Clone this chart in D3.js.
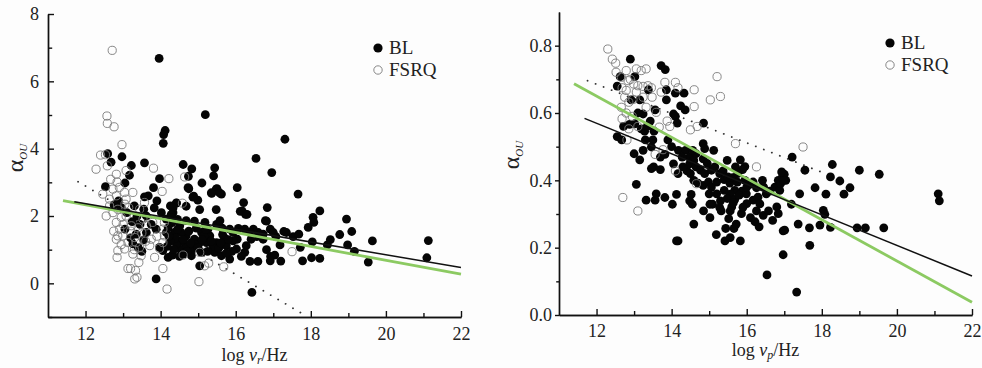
<!DOCTYPE html>
<html>
<head>
<meta charset="utf-8">
<script src="https://cdn.jsdelivr.net/npm/d3@7"></script>
<style>
  html, body { margin: 0; padding: 0; background: #fdfdfd; }
  svg { display: block; }
  .axis path, .axis line { stroke: #111; stroke-width: 1.4px; }
</style>
</head>
<body>
<div id="chart"></div>
<script>
// ---- data ----
const SERIF = "'Liberation Serif', 'Times New Roman', serif"

// left panel: log nu_r vs alpha_OU
const leftBL = [
  [13.96,6.68],[15.19,5.01],[14.12,4.54],[14.08,4.42],[14.07,4.16],[17.31,4.28],[16.54,3.71],[16.96,3.29],
  [17.66,2.65],[12.59,3.85],[12.97,3.76],[12.68,3.6],[13.22,3.5],[13.57,3.58],[14.6,3.53],[14.83,3.4],
  [15.44,3.43],[15.41,3.19],[13.97,3.11],[14.74,3.18],[15.1,2.98],[13.17,3.21],[13.05,2.98],[12.53,2.87],
  [16.04,2.84],[15.5,2.81],[15.36,2.67],[15.62,2.65],[14.75,2.81],[13.81,2.84],[13.67,2.6],[13.57,2.57],
  [14.86,2.56],[14.99,2.47],[13.9,2.45],[12.88,2.45],[16.21,2.4],[16.12,2.14],[16.26,2.05],[16.84,2.25],
  [18.24,2.15],[18.06,1.96],[18.08,1.81],[18.95,1.91],[19.09,1.54],[18.77,1.45],[18.52,1.3],[18.44,1.14],
  [18.98,1.14],[19.16,0.95],[19.64,1.26],[19.53,0.63],[21.13,1.27],[21.09,0.76],[17.93,1.66],[18.04,1.23],
  [18.02,0.76],[18.24,0.74],[17.78,0.67],[17.72,1.07],[17.28,1.54],[17.35,1.51],[17.53,1.39],[17.68,1.46],
  [17.18,1.14],[17.07,1.39],[16.92,1.61],[16.79,1.86],[16.82,1.0],[16.93,0.8],[17.04,0.84],[16.92,0.67],
  [17.2,0.66],[16.59,0.65],[16.38,0.65],[16.43,-0.27],[13.88,0.13],[16.6,1.51],[16.47,1.61],[16.56,1.39],
  [16.07,1.63],[15.84,1.61],[15.64,1.64],[15.49,1.75],[15.58,1.86],[15.18,1.81],[15.09,1.51],[14.95,1.64],
  [14.68,1.86],[14.51,1.71],[14.37,1.51],[14.33,2.1],[14.26,2.3],[14.42,2.38],[14.15,1.91],[14.02,2.1],
  [13.83,2.24],[13.62,2.0],[13.37,1.99],[13.24,1.83],[13.05,1.61],[13.1,2.1],[12.95,2.25],[12.76,2.33],
  [13.35,1.46],[13.55,1.29],[13.26,1.17],[13.4,1.07],[13.62,1.51],[13.88,1.61],[14.15,1.51],[14.2,0.77],
  [14.31,0.84],[14.6,0.87],[14.82,0.82],[15.08,0.92],[15.22,1.21],[15.44,0.92],[15.62,0.82],[15.84,0.72],
  [16.02,1.02],[16.24,0.92],[16.04,1.31],[16.28,1.12],[15.75,1.12],[15.93,1.26],[15.49,1.21],[15.31,1.41],
  [14.68,1.12],[14.55,1.26],[14.9,1.31],[14.86,1.02],[14.51,1.02],[14.42,1.17],[14.68,1.41],[15.04,0.52],
  [13.97,1.07],[14.06,0.97],[14.55,1.51],[15.04,1.21],[15.26,1.61],[15.93,1.51],[16.24,1.61],[16.37,1.51],
  [16.41,1.31],[16.73,1.46],[17.0,1.51],[16.73,1.31],[14.73,2.84],[15.48,2.8],[15.57,2.69],[14.88,2.59],
  [15.35,2.69],[16.17,2.15],[16.3,2.05],[16.82,1.85],[14.42,2.39],[14.33,2.24],[14.28,2.04],[14.68,2.29],
  [15.04,2.19],[15.48,2.19],[14.3,1.8],[14.45,1.9],[14.2,1.65],[14.4,1.35],[14.75,1.55],[15.15,1.4],
  [15.7,1.35],[15.4,1.1],[14.95,1.15],[15.25,0.95],[14.25,1.25],[14.5,0.8],[15.9,0.95],[16.15,0.8],
  [14.35,1.0],[14.45,1.6],[14.6,1.3],[14.8,1.2],[14.7,0.95],[15.0,1.05],[15.1,1.3],[15.35,1.25],
  [15.55,1.05],[15.65,1.45],[15.8,1.3],[15.6,1.2],[14.22,1.4],[14.18,1.1],[14.3,1.95],[13.75,1.75],
  [13.45,1.75],[13.3,2.3],[13.55,2.2],[13.2,1.35],[13.5,0.95],[14.9,1.85],[15.2,1.6],[15.75,0.9]
];
const leftFSRQ = [
  [12.71,6.92],[12.57,4.97],[12.58,4.75],[12.76,4.65],[12.97,4.12],[12.4,3.81],[12.53,3.82],[12.28,3.39],
  [12.58,3.49],[13.81,3.42],[14.64,3.16],[14.22,3.11],[14.04,2.73],[13.08,3.35],[12.82,3.24],[12.67,3.09],
  [12.84,3.01],[12.73,2.8],[12.46,2.65],[12.64,2.5],[12.82,2.6],[13.04,2.7],[13.26,2.7],[13.08,2.5],
  [12.86,2.2],[12.73,2.1],[12.95,1.96],[12.82,1.81],[13.08,2.0],[13.22,1.71],[12.91,1.61],[12.86,1.41],
  [12.82,1.31],[12.99,1.41],[13.13,1.21],[13.04,1.02],[12.86,0.97],[12.84,0.77],[13.26,0.87],[13.35,1.21],
  [13.44,1.07],[13.48,0.82],[13.13,0.44],[13.2,0.44],[13.33,0.38],[13.37,0.18],[13.31,0.13],[13.42,0.62],
  [13.71,1.12],[13.75,1.31],[13.84,0.77],[13.97,1.04],[14.06,1.21],[14.1,1.41],[14.06,1.61],[14.1,1.81],
  [13.79,1.81],[13.62,1.71],[13.53,1.91],[13.57,2.4],[13.44,2.2],[14.06,0.44],[14.17,-0.17],[14.6,0.84],
  [15.02,0.05],[15.17,0.52],[15.28,0.6],[15.68,0.49],[15.04,0.92],[17.5,0.94],[14.58,2.38],[13.31,1.36],
  [12.64,2.3],[12.55,2.0],[13.2,1.55],[13.0,1.75],[13.5,1.5],[13.15,2.25],[12.95,1.15],[13.3,1.0],
  [12.75,1.55],[13.05,2.35],[12.9,2.85],[13.4,1.65],[13.6,1.25],[13.9,1.4]
];
const leftBlackFit = [[11.7, 2.42], [22, 0.47]];
const leftGreenFit = [[11.4, 2.46], [22, 0.27]];
const leftDottedFit = [[11.8, 3.02], [17.8, -0.92]];

// right panel: log nu_p vs alpha_OU
const rightBL = [
  [12.9,0.76],[12.63,0.708],[13.02,0.708],[12.55,0.68],[13.72,0.741],[13.83,0.729],[13.38,0.669],[13.86,0.669],
  [14.1,0.659],[14.33,0.659],[13.86,0.639],[12.92,0.639],[13.15,0.639],[14.24,0.621],[14.36,0.609],[13.56,0.609],
  [14.05,0.597],[14.1,0.59],[13.24,0.597],[14.85,0.57],[14.15,0.57],[12.72,0.56],[12.88,0.566],[13.02,0.568],
  [13.19,0.553],[13.28,0.546],[13.43,0.576],[13.53,0.546],[12.55,0.53],[12.67,0.52],[13.5,0.52],[13.46,0.499],
  [13.0,0.479],[13.15,0.461],[13.24,0.489],[13.7,0.469],[13.82,0.477],[13.52,0.44],[13.46,0.435],[13.7,0.432],
  [14.05,0.449],[14.18,0.489],[14.37,0.489],[14.48,0.469],[14.28,0.469],[14.17,0.42],[14.41,0.428],[14.59,0.459],
  [14.48,0.449],[14.65,0.44],[14.84,0.509],[14.88,0.494],[15.12,0.489],[14.77,0.43],[14.88,0.42],[15.06,0.43],
  [15.28,0.42],[15.48,0.459],[15.37,0.428],[14.7,0.392],[14.84,0.385],[14.98,0.395],[15.06,0.38],[15.2,0.395],
  [15.4,0.402],[15.55,0.392],[15.63,0.408],[15.75,0.395],[15.83,0.461],[15.95,0.441],[15.89,0.432],[15.76,0.42],
  [15.87,0.368],[15.68,0.37],[15.56,0.359],[15.48,0.346],[15.68,0.343],[15.8,0.356],[15.99,0.36],[16.08,0.388],
  [16.17,0.395],[16.26,0.378],[16.42,0.4],[16.52,0.36],[16.61,0.368],[16.75,0.38],[16.84,0.4],[16.95,0.41],
  [17.0,0.418],[17.04,0.4],[16.88,0.37],[17.19,0.329],[17.41,0.36],[17.55,0.43],[17.82,0.378],[18.11,0.359],
  [18.23,0.41],[18.28,0.447],[18.48,0.398],[18.59,0.359],[18.75,0.378],[19.0,0.43],[19.53,0.418],[17.21,0.469],
  [18.94,0.259],[19.16,0.259],[19.65,0.259],[21.1,0.36],[21.13,0.339],[18.23,0.26],[17.95,0.267],[17.67,0.259],
  [17.68,0.207],[18.04,0.311],[18.08,0.299],[17.37,0.27],[16.97,0.25],[17.01,0.252],[16.97,0.179],[16.54,0.119],
  [17.33,0.068],[14.17,0.22],[14.13,0.22],[14.59,0.27],[15.02,0.289],[15.32,0.309],[15.19,0.239],[15.42,0.22],
  [15.56,0.23],[15.44,0.257],[15.66,0.257],[15.83,0.22],[15.52,0.286],[15.72,0.27],[15.86,0.301],[16.0,0.331],
  [16.1,0.289],[16.22,0.277],[16.33,0.262],[16.26,0.309],[16.44,0.296],[16.58,0.309],[16.69,0.281],[16.8,0.321],
  [16.84,0.301],[16.17,0.341],[13.06,0.388],[13.32,0.341],[13.56,0.341],[13.59,0.36],[13.82,0.349],[14.02,0.329],
  [14.48,0.339],[14.52,0.358],[14.55,0.329],[14.85,0.309],[15.02,0.329],[15.09,0.329],[15.3,0.339],[15.28,0.319],
  [15.56,0.309],[15.6,0.321],[15.64,0.333],[14.13,0.358],[14.59,0.4],[14.5,0.42],[14.84,0.464],[14.65,0.479],
  [14.56,0.489],[16.9,0.39],[16.98,0.4],[16.93,0.425],[16.45,0.38],[15.95,0.4],[16.3,0.35],
  [15.2,0.36],[15.4,0.37],[15.0,0.36],[15.5,0.41],[15.7,0.44],[16.0,0.38],[16.35,0.33],[15.9,0.32],
  [15.15,0.44],[14.95,0.45],[14.3,0.44],[14.0,0.5],[13.9,0.52],[13.3,0.52],[13.1,0.6],[13.35,0.56]
];
const rightFSRQ = [
  [12.3,0.79],[12.42,0.76],[12.51,0.748],[12.52,0.721],[12.79,0.726],[13.06,0.731],[13.19,0.726],[13.32,0.731],
  [12.84,0.696],[12.99,0.686],[13.1,0.681],[13.24,0.679],[13.37,0.681],[13.46,0.675],[12.68,0.675],[12.75,0.647],
  [12.86,0.632],[12.66,0.617],[12.79,0.6],[12.68,0.583],[12.86,0.553],[12.81,0.52],[13.32,0.617],[13.48,0.647],
  [13.59,0.602],[13.72,0.662],[13.82,0.691],[14.1,0.691],[14.17,0.675],[13.88,0.576],[13.95,0.56],[13.77,0.491],
  [13.56,0.477],[14.1,0.428],[14.6,0.669],[14.6,0.619],[14.5,0.55],[14.68,0.56],[15.03,0.639],[15.3,0.649],
  [15.21,0.708],[15.7,0.509],[16.26,0.44],[17.5,0.499],[12.7,0.349],[13.1,0.309],[14.66,0.39],[12.97,0.64],
  [12.66,0.706],[12.79,0.667],[13.06,0.662],[13.24,0.647],[13.67,0.558],[12.95,0.59],[13.1,0.56],[12.9,0.7]
];
const rightBlackFit = [[11.68, 0.584], [22, 0.116]];
const rightGreenFit = [[11.4, 0.687], [22, 0.038]];
const rightDottedFit = [[11.76, 0.696], [18.05, 0.422]];

const xMajor = [12, 14, 16, 18, 20, 22];
const xMinor = [13, 15, 17, 19, 21];
const leftYMajor = [0, 2, 4, 6, 8];
const leftYMinor = [-1, 1, 3, 5, 7];
const rightYMajor = [0.0, 0.2, 0.4, 0.6, 0.8];
const rightYMinor = [0.1, 0.3, 0.5, 0.7];

// ---- drawing ----
const width = 982, height = 368
const svg = d3.select("#chart").append("svg")
  .attr("width", width)
  .attr("height", height)
  .style("font-family", SERIF)

function drawPanel(cfg) {
  const g = svg.append("g")
  const x = d3.scaleLinear().domain([11, 22]).range([cfg.left, cfg.right])
  const y = d3.scaleLinear().domain(cfg.ydomain).range([cfg.bottom, cfg.top])

  const line = d3.line().x(d => x(d[0])).y(d => y(d[1]))

  // dotted fit sits below the points
  g.append("path")
    .attr("d", line(cfg.dotted))
    .attr("fill", "none")
    .attr("stroke", "#333")
    .attr("stroke-width", 1.8)
    .attr("stroke-linecap", "round")
    .attr("stroke-dasharray", "0.1,8.5")

  g.append("g").selectAll("circle")
    .data(cfg.bl)
    .enter().append("circle")
    .attr("cx", d => x(d[0]))
    .attr("cy", d => y(d[1]))
    .attr("r", 4.4)
    .attr("fill", "#050505")

  g.append("g").selectAll("circle")
    .data(cfg.fsrq)
    .enter().append("circle")
    .attr("cx", d => x(d[0]))
    .attr("cy", d => y(d[1]))
    .attr("r", 4.1)
    .attr("fill", "none")
    .attr("stroke", "#7a7a7a")
    .attr("stroke-width", 0.9)

  g.append("path")
    .attr("d", line(cfg.green))
    .attr("fill", "none")
    .attr("stroke", "#8cca62")
    .attr("stroke-width", 2.8)

  g.append("path")
    .attr("d", line(cfg.black))
    .attr("fill", "none")
    .attr("stroke", "#111")
    .attr("stroke-width", 1.5)

  // x axis, ticks pointing inward
  const xa = g.append("g").attr("class", "axis")
    .attr("transform", `translate(0,${cfg.bottom})`)
    .call(d3.axisBottom(x).tickValues(xMajor).tickSizeInner(-6).tickSizeOuter(0)
      .tickPadding(cfg.xPad).tickFormat(d3.format("d")))
  g.append("g").attr("class", "axis")
    .attr("transform", `translate(0,${cfg.bottom})`)
    .call(d3.axisBottom(x).tickValues(xMinor).tickSizeInner(-4).tickSizeOuter(0).tickFormat(() => ""))

  // y axis
  const ya = g.append("g").attr("class", "axis")
    .attr("transform", `translate(${cfg.left},0)`)
    .call(d3.axisLeft(y).tickValues(cfg.yMajor).tickSizeInner(cfg.yTick).tickSizeOuter(0)
      .tickPadding(cfg.yPad).tickFormat(cfg.yFormat))
  g.append("g").attr("class", "axis")
    .attr("transform", `translate(${cfg.left},0)`)
    .call(d3.axisLeft(y).tickValues(cfg.yMinor).tickSizeInner(cfg.yTick * 0.7).tickSizeOuter(0).tickFormat(() => ""))

  for (const a of [xa, ya]) {
    a.attr("font-family", SERIF).attr("font-size", 18)
    a.selectAll("text").attr("fill", "#222")
  }

  // x label: log nu / Hz
  const xl = g.append("text")
    .attr("x", (cfg.left + cfg.right) / 2)
    .attr("y", cfg.xLabelY)
    .attr("text-anchor", "middle")
    .attr("fill", "#222")
    .style("font-size", "18px")
  xl.append("tspan").text("log ")
  xl.append("tspan").style("font-style", "italic").text("ν")
  xl.append("tspan").attr("dy", 3).style("font-size", "12px").style("font-style", "italic").text(cfg.sub)
  xl.append("tspan").attr("dy", -3).text("/Hz")

  // y label: alpha_OU
  const yl = g.append("text")
    .attr("transform", `translate(${cfg.yLabelX},${cfg.yLabelY}) rotate(-90)`)
    .attr("text-anchor", "middle")
    .attr("fill", "#222")
    .style("font-size", "24px")
  yl.append("tspan").text("α")
  yl.append("tspan").attr("dy", 4).style("font-size", "11px").style("font-style", "italic").text("OU")

  // legend
  const lg = g.append("g").attr("transform", `translate(${cfg.legX},${cfg.legY})`)
  lg.append("circle").attr("cx", 0).attr("cy", 0).attr("r", 4.6).attr("fill", "#050505")
  lg.append("text").attr("x", 11).attr("y", 6).attr("fill", "#222").style("font-size", "19px").text("BL")
  lg.append("circle").attr("cx", 0).attr("cy", 22).attr("r", 4.2).attr("fill", "none")
    .attr("stroke", "#7a7a7a").attr("stroke-width", 0.9)
  lg.append("text").attr("x", 11).attr("y", 28).attr("fill", "#222").style("font-size", "19px").text("FSRQ")
}

drawPanel({
  left: 48, right: 461, top: 14, bottom: 317,
  ydomain: [-1, 8],
  bl: leftBL, fsrq: leftFSRQ,
  black: leftBlackFit, green: leftGreenFit, dotted: leftDottedFit,
  yMajor: leftYMajor, yMinor: leftYMinor, yTick: -6, yPad: 9, yFormat: d3.format("d"),
  xPad: 10, xLabelY: 361, sub: "r",
  yLabelX: 23, yLabelY: 158,
  legX: 378, legY: 48
})

drawPanel({
  left: 559, right: 972, top: 12, bottom: 315,
  ydomain: [0, 0.9],
  bl: rightBL, fsrq: rightFSRQ,
  black: rightBlackFit, green: rightGreenFit, dotted: rightDottedFit,
  yMajor: rightYMajor, yMinor: rightYMinor, yTick: 4, yPad: 3, yFormat: d3.format(".1f"),
  xPad: 9, xLabelY: 356, sub: "p",
  yLabelX: 519, yLabelY: 155,
  legX: 890, legY: 43
})
</script>
</body>
</html>
